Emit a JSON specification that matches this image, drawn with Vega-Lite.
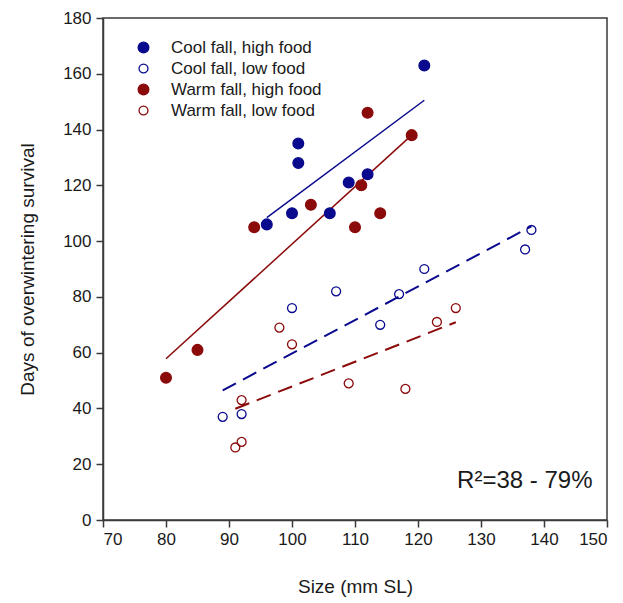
{
  "$schema": "https://vega.github.io/schema/vega-lite/v6.json",
  "width": 504,
  "height": 502,
  "autosize": {"type": "none"},
  "padding": {"left": 103, "top": 18, "right": 16, "bottom": 83},
  "background": "white",
  "config": {
    "font": "Liberation Sans",
    "view": {"stroke": "#3a3a3a", "strokeWidth": 1.5},
    "axis": {
      "grid": false,
      "domainColor": "#3a3a3a",
      "domainWidth": 1.5,
      "tickColor": "#3a3a3a",
      "tickWidth": 1.5,
      "tickSize": 7,
      "labelFontSize": 17,
      "labelColor": "#1a1a1a",
      "labelFont": "Liberation Sans",
      "titleFont": "Liberation Sans",
      "titleFontSize": 19,
      "titleFontWeight": "normal",
      "titleColor": "#1a1a1a"
    },
    "legend": {
      "labelFont": "Liberation Sans",
      "labelFontSize": 17,
      "labelColor": "#1a1a1a",
      "labelOffset": 19,
      "rowPadding": 3,
      "symbolStrokeWidth": 1.3,
      "padding": 0
    }
  },
  "datasets": {
    "pts": [
      {"sl": 96, "days": 106, "group": "Cool fall, high food"},
      {"sl": 100, "days": 110, "group": "Cool fall, high food"},
      {"sl": 101, "days": 135, "group": "Cool fall, high food"},
      {"sl": 101, "days": 128, "group": "Cool fall, high food"},
      {"sl": 106, "days": 110, "group": "Cool fall, high food"},
      {"sl": 109, "days": 121, "group": "Cool fall, high food"},
      {"sl": 112, "days": 124, "group": "Cool fall, high food"},
      {"sl": 121, "days": 163, "group": "Cool fall, high food"},
      {"sl": 89, "days": 37, "group": "Cool fall, low food"},
      {"sl": 92, "days": 38, "group": "Cool fall, low food"},
      {"sl": 100, "days": 76, "group": "Cool fall, low food"},
      {"sl": 107, "days": 82, "group": "Cool fall, low food"},
      {"sl": 114, "days": 70, "group": "Cool fall, low food"},
      {"sl": 117, "days": 81, "group": "Cool fall, low food"},
      {"sl": 121, "days": 90, "group": "Cool fall, low food"},
      {"sl": 137, "days": 97, "group": "Cool fall, low food"},
      {"sl": 138, "days": 104, "group": "Cool fall, low food"},
      {"sl": 80, "days": 51, "group": "Warm fall, high food"},
      {"sl": 85, "days": 61, "group": "Warm fall, high food"},
      {"sl": 94, "days": 105, "group": "Warm fall, high food"},
      {"sl": 103, "days": 113, "group": "Warm fall, high food"},
      {"sl": 110, "days": 105, "group": "Warm fall, high food"},
      {"sl": 111, "days": 120, "group": "Warm fall, high food"},
      {"sl": 112, "days": 146, "group": "Warm fall, high food"},
      {"sl": 114, "days": 110, "group": "Warm fall, high food"},
      {"sl": 119, "days": 138, "group": "Warm fall, high food"},
      {"sl": 91, "days": 26, "group": "Warm fall, low food"},
      {"sl": 92, "days": 28, "group": "Warm fall, low food"},
      {"sl": 92, "days": 43, "group": "Warm fall, low food"},
      {"sl": 98, "days": 69, "group": "Warm fall, low food"},
      {"sl": 100, "days": 63, "group": "Warm fall, low food"},
      {"sl": 109, "days": 49, "group": "Warm fall, low food"},
      {"sl": 118, "days": 47, "group": "Warm fall, low food"},
      {"sl": 123, "days": 71, "group": "Warm fall, low food"},
      {"sl": 126, "days": 76, "group": "Warm fall, low food"}
    ],
    "fits": [
      {"x1": 96, "y1": 108.4, "x2": 121, "y2": 150.5, "group": "Cool fall, high food"},
      {"x1": 89, "y1": 46.5, "x2": 138, "y2": 105.3, "group": "Cool fall, low food"},
      {"x1": 80, "y1": 57.8, "x2": 119, "y2": 138, "group": "Warm fall, high food"},
      {"x1": 91, "y1": 39.9, "x2": 126, "y2": 70.9, "group": "Warm fall, low food"}
    ],
    "note": [
      {"x": 147.7, "y": 11.3, "label": "R²=38 - 79%"}
    ]
  },
  "encoding": {
    "x": {"type": "quantitative", "scale": {"domain": [70, 150], "nice": false, "zero": false}, "axis": {"title": "Size (mm SL)", "values": [70, 80, 90, 100, 110, 120, 130, 140, 150], "labelPadding": 4, "titlePadding": 30}},
    "y": {"type": "quantitative", "scale": {"domain": [0, 180], "nice": false}, "axis": {"title": "Days of overwintering survival", "values": [0, 20, 40, 60, 80, 100, 120, 140, 160, 180], "labelPadding": 5, "titlePadding": 25}}
  },
  "layer": [
    {
      "data": {"name": "fits"},
      "transform": [{"filter": "datum.group === 'Cool fall, high food'"}],
      "mark": {"type": "rule", "color": "#0a0a8e", "strokeWidth": 1.5},
      "encoding": {"x": {"field": "x1"}, "y": {"field": "y1"}, "x2": {"field": "x2"}, "y2": {"field": "y2"}}
    },
    {
      "data": {"name": "fits"},
      "transform": [{"filter": "datum.group === 'Cool fall, low food'"}],
      "mark": {"type": "rule", "color": "#0a0a8e", "strokeWidth": 2, "strokeDash": [15, 8]},
      "encoding": {"x": {"field": "x1"}, "y": {"field": "y1"}, "x2": {"field": "x2"}, "y2": {"field": "y2"}}
    },
    {
      "data": {"name": "fits"},
      "transform": [{"filter": "datum.group === 'Warm fall, high food'"}],
      "mark": {"type": "rule", "color": "#8b0a0a", "strokeWidth": 1.5},
      "encoding": {"x": {"field": "x1"}, "y": {"field": "y1"}, "x2": {"field": "x2"}, "y2": {"field": "y2"}}
    },
    {
      "data": {"name": "fits"},
      "transform": [{"filter": "datum.group === 'Warm fall, low food'"}],
      "mark": {"type": "rule", "color": "#8b0a0a", "strokeWidth": 2, "strokeDash": [15, 8]},
      "encoding": {"x": {"field": "x1"}, "y": {"field": "y1"}, "x2": {"field": "x2"}, "y2": {"field": "y2"}}
    },
    {
      "data": {"name": "pts"},
      "mark": {"type": "point", "shape": "circle", "strokeWidth": 1.3, "opacity": 1},
      "encoding": {
        "x": {"field": "sl"},
        "y": {"field": "days"},
        "fill": {"field": "group", "type": "nominal", "scale": {"domain": ["Cool fall, high food", "Cool fall, low food", "Warm fall, high food", "Warm fall, low food"], "range": ["#0a0a8e", "transparent", "#8b0a0a", "transparent"]}, "legend": {"orient": "none", "legendX": 32, "legendY": 21, "title": null}},
        "stroke": {"field": "group", "type": "nominal", "scale": {"domain": ["Cool fall, high food", "Cool fall, low food", "Warm fall, high food", "Warm fall, low food"], "range": ["#0a0a8e", "#0a0a8e", "#8b0a0a", "#8b0a0a"]}, "legend": {"orient": "none", "legendX": 32, "legendY": 21, "title": null}},
        "size": {"field": "group", "type": "nominal", "scale": {"type": "ordinal", "domain": ["Cool fall, high food", "Cool fall, low food", "Warm fall, high food", "Warm fall, low food"], "range": [115, 80, 115, 80]}, "legend": {"orient": "none", "legendX": 32, "legendY": 21, "title": null}}
      }
    },
    {
      "data": {"name": "note"},
      "mark": {"type": "text", "align": "right", "baseline": "alphabetic", "fontSize": 24, "font": "Liberation Sans", "color": "#1a1a1a"},
      "encoding": {
        "x": {"field": "x"},
        "y": {"field": "y"},
        "text": {"field": "label"}
      }
    }
  ]
}
